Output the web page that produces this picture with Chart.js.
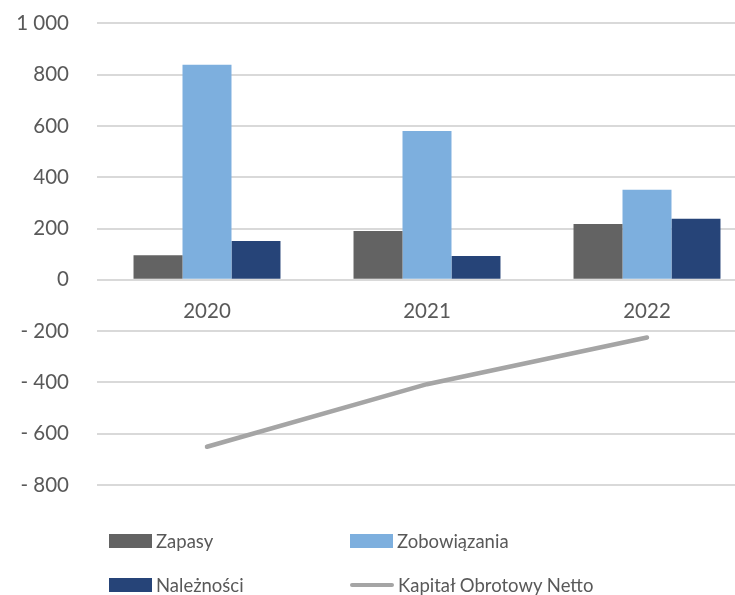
<!DOCTYPE html>
<html>
<head>
<meta charset="utf-8">
<script src="https://cdn.jsdelivr.net/npm/chart.js@4"></script>
<style>
  html, body { margin: 0; padding: 0; background: #fff; overflow: hidden; }
  #wrap { position: relative; width: 757px; height: 595px; overflow: hidden; }
  #wykres { position: absolute; left: 0; top: -17px; }
  .leg { position: absolute; font-family: Lato, sans-serif; font-size: 18.5px; color: #595959; white-space: nowrap; }
  .leg i { position: absolute; display: block; }
</style>
</head>
<body>
<div id="wrap">
  <canvas id="wykres" width="757" height="612"></canvas>
  <div id="legenda"></div>
</div>
<script>
const lata = ['2020', '2021', '2022'];
const zapasy = [96, 190, 218];
const zobowiazania = [838, 580, 351];
const naleznosci = [151, 93, 238];
const kapitalNetto = [-651, -407, -225];
const ticksY = [-800, -600, -400, -200, 0, 200, 400, 600, 800, 1000];

const kolory = {
    zapasy: '#636363',
    zobowiazania: '#7dafde',
    naleznosci: '#264478',
    kapital: '#a5a5a5'
};

function formatuj(v) {
    const abs = Math.abs(v).toString().replace(/\B(?=(\d{3})+(?!\d))/g, ' ');
    return v < 0 ? '- ' + abs : abs;
}

const ctx = document.getElementById('wykres').getContext('2d');
new Chart(ctx, {
    type: 'bar',
    data: {
        labels: lata,
        datasets: [
            { label: 'Zapasy', data: zapasy, backgroundColor: kolory.zapasy },
            { label: 'Zobowiązania', data: zobowiazania, backgroundColor: kolory.zobowiazania },
            { label: 'Należności', data: naleznosci, backgroundColor: kolory.naleznosci },
            {
                type: 'line',
                label: 'Kapitał Obrotowy Netto',
                data: kapitalNetto,
                borderColor: kolory.kapital,
                borderWidth: 4.5,
                borderCapStyle: 'round',
                pointRadius: 0,
                tension: 0
            }
        ]
    },
    options: {
        responsive: false,
        animation: false,
        categoryPercentage: 0.668,
        barPercentage: 1,
        layout: { padding: { top: 6, bottom: 110, left: 0, right: 0 } },
        plugins: { legend: { display: false }, tooltip: { enabled: false } },
        scales: {
            x: {
                position: { y: 0 },
                grid: { display: false, drawTicks: false },
                border: { display: false },
                ticks: { color: '#595959', font: { family: 'Lato', size: 20.5 }, padding: 19 }
            },
            y: {
                min: -800,
                max: 1000,
                afterBuildTicks: s => { s.ticks = ticksY.map(v => ({ value: v })); },
                afterFit: s => { s.width = 97; },
                grid: { color: '#d9d9d9', lineWidth: 2, drawTicks: false },
                border: { display: false },
                ticks: {
                    color: '#595959',
                    font: { family: 'Lato', size: 20.5 },
                    padding: 28,
                    callback: v => formatuj(v)
                }
            }
        }
    }
});

// legenda w dwóch kolumnach
const pozycje = [
    { tekst: 'Zapasy', kolor: kolory.zapasy, x: 109, y: 541, linia: false },
    { tekst: 'Zobowiązania', kolor: kolory.zobowiazania, x: 350, y: 541, linia: false },
    { tekst: 'Należności', kolor: kolory.naleznosci, x: 109, y: 585, linia: false },
    { tekst: 'Kapitał Obrotowy Netto', kolor: kolory.kapital, x: 350, y: 585, linia: true }
];
const legenda = document.getElementById('legenda');
pozycje.forEach(p => {
    const el = document.createElement('div');
    el.className = 'leg';
    el.style.left = p.x + 'px';
    el.style.top = (p.y - 12) + 'px';
    el.style.lineHeight = '24px';
    el.style.paddingLeft = (p.linia ? 48 : 47) + 'px';
    const ikona = document.createElement('i');
    if (p.linia) {
        ikona.style.cssText = 'left:0;top:10px;width:44px;height:4px;border-radius:2px;background:' + p.kolor;
    } else {
        ikona.style.cssText = 'left:0;top:5px;width:43px;height:14px;background:' + p.kolor;
    }
    el.appendChild(ikona);
    el.appendChild(document.createTextNode(p.tekst));
    legenda.appendChild(el);
});
</script>
</body>
</html>
